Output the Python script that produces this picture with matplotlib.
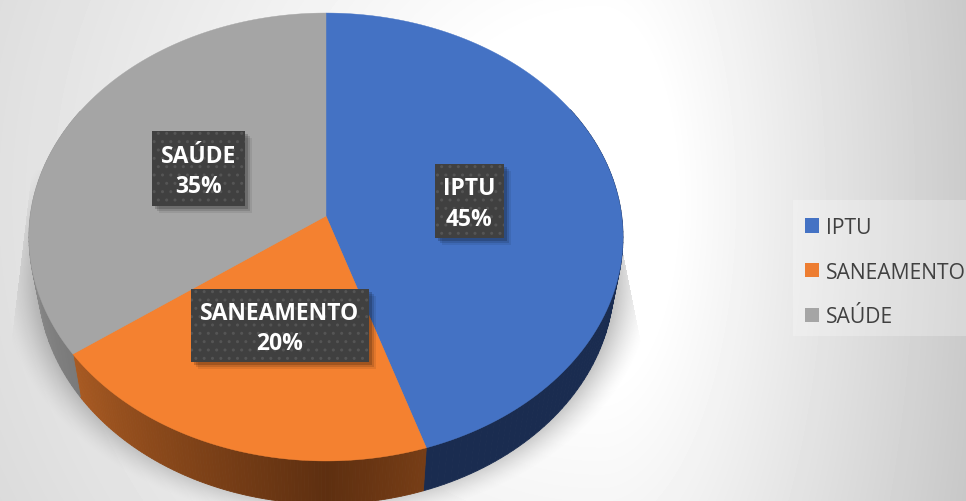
import numpy as np
import matplotlib
matplotlib.use('Agg')
import matplotlib.pyplot as plt
from matplotlib.colors import to_rgb
from matplotlib.patches import Patch, Polygon, Rectangle

categories = ['IPTU', 'SANEAMENTO', 'SAÚDE']
values = [45, 20, 35]
colors = ['#4472C4', '#F48130', '#A5A5A5']
legend_colors = ['#4472C4', '#ED7D31', '#A5A5A5']
rim_light = ['#1A2C50', '#A85A22', '#9A9A9A']
rim_dark = ['#1A2C50', '#5E2F10', '#5A5A5A']
rim_width = [1.0, 0.94, 1.9]

W, H = 966, 502
CX, CY = 326, 217      # centre of the pie on screen
K, A, B = 0.09375, 295.7, 222.0
DEPTH = 43


def project(theta, scale=1.0, dy=0.0):
    # theta clockwise from 12 o'clock, tilted disc with a bit of perspective
    u, v = np.sin(theta), np.cos(theta)
    w = 1 + K * v
    return CX + scale * A * u / w, CY - B * v / w + dy


fig = plt.figure(figsize=(W / 100, H / 100), dpi=100)
ax = fig.add_axes([0, 0, 1, 1])
ax.set_xlim(0, W)
ax.set_ylim(H, 0)
ax.axis('off')

# background, white in the middle and grey towards the corners
yy, xx = np.mgrid[0:H, 0:W]
dx = (xx - 600) / np.where(xx > 600, 370, 900)
dist = np.hypot(dx, (yy - 200) / 900)
bg = (255 - 56 * np.clip(dist - 0.2, 0, None) / 0.85) / 255
ax.imshow(bg, cmap='gray', vmin=0, vmax=1, extent=(0, W, H, 0), aspect='auto', zorder=0)

# soft shadow behind the pie
ell = np.hypot((xx - 326) / 297, (yy - 280) / 222)
shadow = np.clip((1.10 - ell) / 0.14, 0, 1) ** 1.5
keep = (xx > 10 + (350 - yy) * 0.12) & (xx < 640 - (340 - yy) * 0.2) & (yy > 170)
overlay = np.zeros((H, W, 4))
overlay[..., :3] = 0.45
overlay[..., 3] = 0.5 * shadow * keep
ax.imshow(overlay, extent=(0, W, H, 0), aspect='auto', zorder=1)

fractions = np.cumsum([0] + values) / sum(values)

# side wall: thin quads so it can shade along the rim
for i in range(len(values)):
    start, end = fractions[i] * 2 * np.pi, fractions[i + 1] * 2 * np.pi
    angles = np.linspace(start, end, 120)
    c1 = np.array(to_rgb(rim_light[i]))
    c2 = np.array(to_rgb(rim_dark[i]))
    for a0, a1 in zip(angles[:-1], angles[1:]):
        mid = (a0 + a1) / 2
        if np.cos(mid) > 0.5:
            continue
        t = np.clip(1 - abs(mid - np.pi) / rim_width[i], 0, 1)
        col = c1 + (c2 - c1) * t
        x0, y0 = project(a0)
        x1, y1 = project(a1)
        x2, y2 = project(a1, 0.97, DEPTH)
        x3, y3 = project(a0, 0.97, DEPTH)
        ax.add_patch(Polygon([(x0, y0), (x1, y1), (x2, y2), (x3, y3)], closed=True,
                             facecolor=col, edgecolor=col, lw=0.6, zorder=2))

# top face
for i, col in enumerate(colors):
    angles = np.linspace(fractions[i], fractions[i + 1], 200) * 2 * np.pi
    px, py = project(angles)
    pts = np.column_stack([np.r_[CX, px], np.r_[CY, py]])
    ax.add_patch(Polygon(pts, closed=True, facecolor=col, edgecolor=col, lw=0.3, zorder=3))

# data labels
boxes = [(435, 165, 69, 74), (191, 290, 178, 73), (152, 132, 93, 75)]
for name, val, (bx, by, bw, bh) in zip(categories, values, boxes):
    for off, alpha in ((7, 0.08), (5, 0.12), (3, 0.18)):
        ax.add_patch(Rectangle((bx + off, by + off), bw, bh, facecolor='black',
                               alpha=alpha, edgecolor='none', zorder=4))
    ax.add_patch(Rectangle((bx, by), bw, bh, facecolor='#404040', edgecolor='none', zorder=5))
    ax.add_patch(Rectangle((bx, by), bw, bh, facecolor='none', edgecolor='#555555',
                           hatch='..', lw=0, zorder=5))
    ax.text(bx + bw / 2, by + bh / 2 + 2.5, f'{name}\n{val}%', color='white', ha='center', va='center',
            family='Open Sans', fontweight='bold', fontsize=16.5, linespacing=1.36, zorder=6)

# legend
ax.add_patch(Rectangle((793, 201), 173, 136, facecolor='white', alpha=0.25, edgecolor='none', zorder=1))
handles = [Patch(facecolor=c, edgecolor='none', label=n) for c, n in zip(legend_colors, categories)]
ax.legend(handles=handles, loc='upper left', bbox_to_anchor=(805 / W, 1 - 218 / H), borderaxespad=0, borderpad=0,
          frameon=False, handlelength=0.66, handleheight=0.66, handletextpad=0.33, labelspacing=1.12,
          prop={'family': 'Open Sans', 'size': 15.2}, labelcolor='#404040')

fig.savefig('out.png', dpi=100)
